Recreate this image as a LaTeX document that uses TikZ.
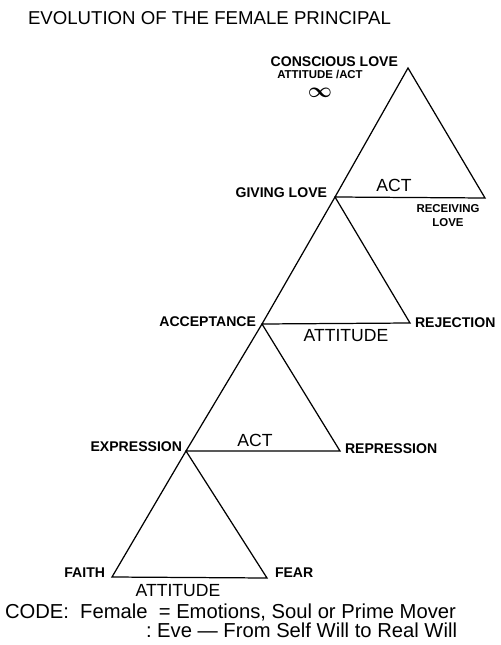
\documentclass[tikz,border=0pt]{standalone}
\usepackage{amsmath}
\usepackage{fontspec}
\setmainfont{Liberation Sans}
\usetikzlibrary{positioning}

\begin{document}
\begin{tikzpicture}[x=0.2mm, y=-0.2mm,
    every node/.style={inner sep=0pt, outer sep=0pt},
    lbl/.style={font=\bfseries\fontsize{8}{9}\selectfont},
    small/.style={font=\bfseries\fontsize{6.5}{8}\selectfont},
    side/.style={font=\fontsize{10}{11}\selectfont},
    hand/.style={font=\fontsize{11.5}{13}\selectfont},
    edge/.style={line width=0.7pt}]
  \useasboundingbox (0,0) rectangle (500,645);
  \node[font=\fontsize{10.6}{12}\selectfont, anchor=west] (title) at (28,18) {EVOLUTION OF THE FEMALE PRINCIPAL};

  \coordinate (conscious) at (408,68);
  \coordinate (giving) at (335,197);
  \coordinate (receiving) at (485,198);
  \coordinate (accept) at (262,324);
  \coordinate (reject) at (410,323);
  \coordinate (express) at (186,451);
  \coordinate (repress) at (340,451);
  \coordinate (faith) at (112,577);
  \coordinate (fear) at (267,578);

  \draw[edge] (conscious) -- (giving) -- (receiving) -- cycle;
  \draw[edge] (giving) -- (accept) -- (reject) -- cycle;
  \draw[edge] (accept) -- (express) -- (repress) -- cycle;
  \draw[edge] (express) -- (faith) -- (fear) -- cycle;

  \node[lbl, anchor=east] (conscioust) at (398,62) {CONSCIOUS LOVE};
  \node[small] (attact) at (320,74) {ATTITUDE /ACT};
  \node[font=\fontsize{12}{12}\selectfont] (inf) at (320,93) {$\boldsymbol{\infty}$};
  \node[lbl, anchor=east] (givingt) at (327,193) {GIVING LOVE};
  \node[side] (act1) at (394,185) {ACT};
  \node[small, align=center] (receivingt) at (448,216) {RECEIVING\\LOVE};
  \node[lbl, anchor=east] (acceptt) at (256,322) {ACCEPTANCE};
  \node[lbl, anchor=west] (rejectt) at (415,323) {REJECTION};
  \node[side] (att1) at (346,336) {ATTITUDE};
  \node[lbl, anchor=east] (expresst) at (182,447) {EXPRESSION};
  \node[side] (act2) at (255,440) {ACT};
  \node[lbl, anchor=west] (represst) at (345,449) {REPRESSION};
  \node[lbl, anchor=east] (faitht) at (105,573) {FAITH};
  \node[lbl, anchor=west] (feart) at (275,573) {FEAR};
  \node[side] (att2) at (178,591) {ATTITUDE};

  \node[hand, anchor=west] (code) at (5,612) {CODE:\ \ Female\ \ =\ Emotions, Soul or Prime Mover};
  \node[hand, anchor=west] (eve) at (146,630) {:\ Eve --- From Self Will to Real Will};
\end{tikzpicture}
\end{document}
